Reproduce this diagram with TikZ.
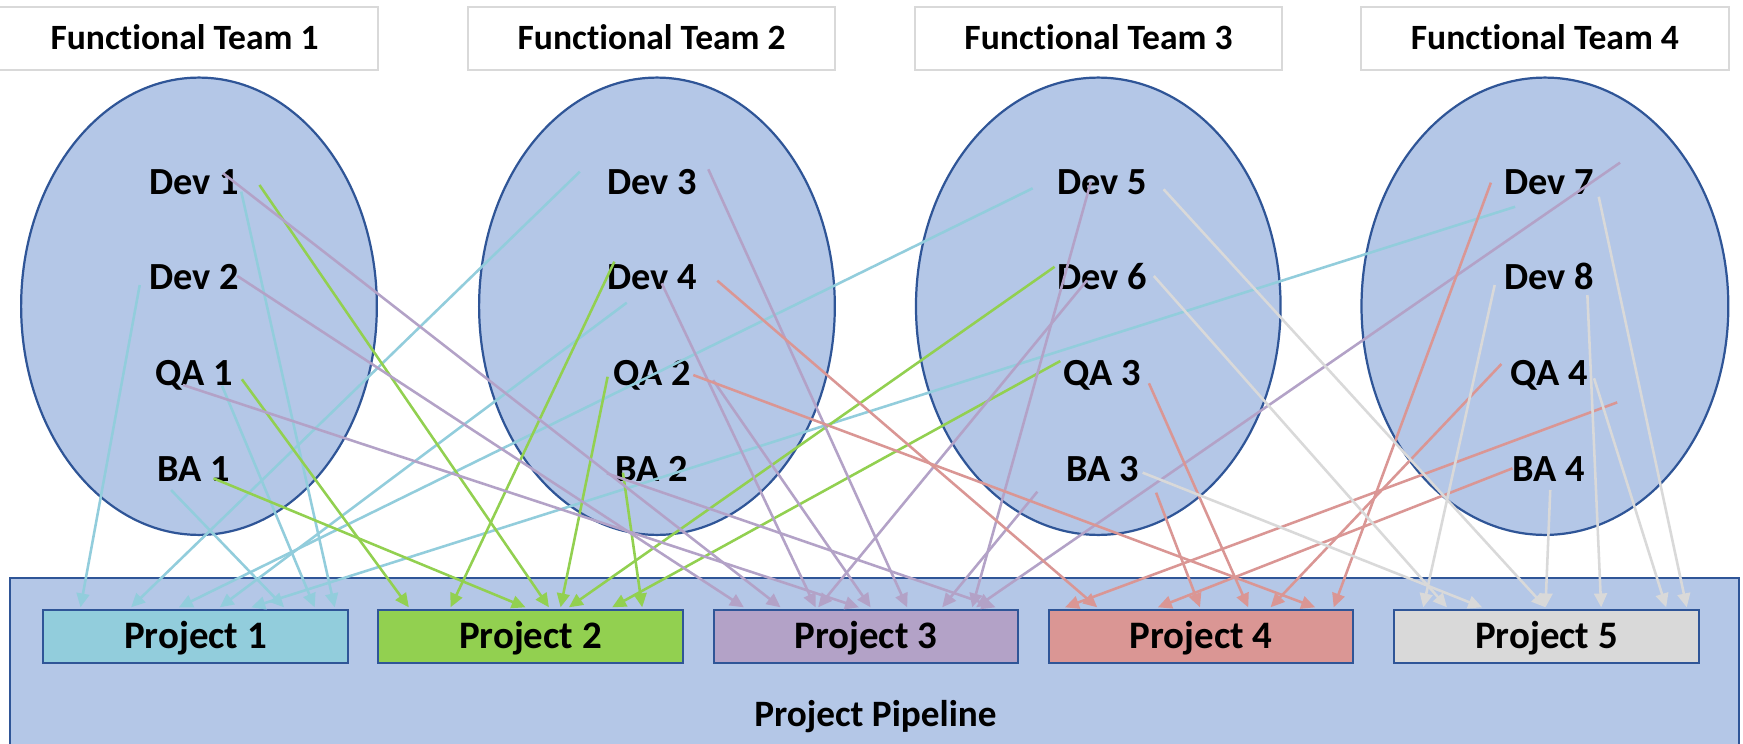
\documentclass[tikz,border=0pt]{standalone}
\usepackage{fontspec}
\setmainfont{Carlito}[Ligatures=NoCommon]
\usetikzlibrary{shapes.geometric,arrows.meta,calc}

\definecolor{pipefill}{RGB}{180,199,231}
\definecolor{navy}{RGB}{47,85,151}
\definecolor{hdrline}{RGB}{217,217,217}
\definecolor{cA}{RGB}{146,205,220}
\definecolor{cB}{RGB}{146,208,80}
\definecolor{cC}{RGB}{179,162,199}
\definecolor{cD}{RGB}{218,150,148}
\definecolor{cE}{RGB}{217,217,217}

\begin{document}
\begin{tikzpicture}[x=1pt,y=-1pt,
  header/.style={draw=hdrline,line width=1.8pt,fill=white,inner sep=0pt,
    minimum height=56.7pt,text height=20.2pt,text depth=0pt,
    font=\fontsize{32}{38}\selectfont\bfseries},
  team/.style={ellipse,draw=navy,line width=2pt,fill=pipefill,inner sep=0pt,
    minimum height=411.4pt},
  pipebox/.style={draw=navy,line width=1.8pt,fill=pipefill,inner sep=0pt},
  projbox/.style={draw=navy,line width=1.8pt,inner sep=0pt,minimum width=274pt,
    minimum height=47.5pt,text height=22.1pt,text depth=0pt,
    font=\fontsize{35}{42}\selectfont\bfseries},
  lbl/.style={inner sep=0pt,text height=21.8pt,text depth=0pt,
    font=\fontsize{34.5}{41}\selectfont\bfseries},
  pipetext/.style={inner sep=0pt,text height=21.2pt,text depth=0pt,
    font=\fontsize{33.5}{40}\selectfont\bfseries},
  arr/.style={line width=2.3pt,-{Triangle[length=12.5pt,width=11.5pt]}}]

\useasboundingbox (0,0) rectangle (1568,669);
\clip (0,0) rectangle (1568,669);
\fill[white] (0,0) rectangle (1568,669);

% pipeline frame
\node[pipebox,minimum width=1554.7pt,minimum height=180pt] (pipe) at (786.6,610.3) {};
\node[pipetext] (pipelabel) at (787.6,643.2) {Project Pipeline};

% team headers
\node[header,minimum width=348pt]   (h1) at (166,34.7)    {Functional Team 1};
\node[header,minimum width=329.6pt] (h2) at (586.2,34.7)  {Functional Team 2};
\node[header,minimum width=329.7pt] (h3) at (988.2,34.7)  {Functional Team 3};
\node[header,minimum width=330.5pt] (h4) at (1389.8,34.7) {Functional Team 4};

% team ellipses
\node[team,minimum width=320pt] (e1) at (179,275.5)   {};
\node[team,minimum width=320pt] (e2) at (591,275.5)   {};
\node[team,minimum width=328pt] (e3) at (988,275.5)   {};
\node[team,minimum width=330pt] (e4) at (1389.8,275.5) {};

% project boxes
\node[projbox,fill=cA] (p1) at (176,572.5)    {Project 1};
\node[projbox,fill=cB] (p2) at (477.2,572.5)  {Project 2};
\node[projbox,fill=cC] (p3) at (778.9,572.5)  {Project 3};
\node[projbox,fill=cD] (p4) at (1080.5,572.5) {Project 4};
\node[projbox,fill=cE] (p5) at (1391.3,572.5) {Project 5};

% team members
\foreach \nm/\x/\y/\txt in {
  dev1/174.4/163.8/Dev 1, dev2/174.4/249.6/Dev 2, qa1/174.4/335.6/QA 1, ba1/174.4/422.5/BA 1,
  dev3/586.5/163.8/Dev 3, dev4/586.5/249.6/Dev 4, qa2/586.5/335.6/QA 2, ba2/586.5/422.5/BA 2,
  dev5/991.7/163.8/Dev 5, dev6/991.7/249.6/Dev 6, qa3/991.7/335.6/QA 3, ba3/991.7/422.5/BA 3,
  dev7/1393.5/163.8/Dev 7, dev8/1393.5/249.6/Dev 8, qa4/1393.5/335.6/QA 4, ba4/1393.5/422.5/BA 4}
  \node[lbl] (\nm) at (\x,\y) {\txt};

% assignments: member -> project
\foreach \src/\ox/\oy/\dst/\dx/\col in {
  dev1/42.6/8.6/p1/263/cA, dev2/-48.7/6.8/p1/34.3/cA, qa1/25.3/11.4/p1/245/cA,
  ba1/-20.5/18.3/p1/217.5/cA, dev3/-64.9/-9.4/p1/79.8/cA, dev4/-22.7/22.7/p1/159.6/cA,
  dev5/-62.7/5.6/p1/122.8/cA, dev7/-30.5/22.2/p1/188/cA,
  qa1/43.2/5.6/p2/28.5/cB, dev4/-33.8/-14.2/p2/66/cB, ba1/17.6/7.8/p2/133.5/cB,
  dev1/59/2.6/p2/154.5/cB, qa2/-39.9/3.3/p2/165/cB, dev6/-43/-9.6/p2/172.5/cB,
  qa3/-37.9/-10.8/p2/211.4/cB, ba2/-26.1/2.7/p2/238.4/cB,
  dev1/26.3/-7.9/p3/61.2/cC, dev2/39.1/-1.3/p3/28.2/cC, qa1/-9.8/10.7/p3/131.7/cC,
  dev3/50.7/-11.5/p3/175.1/cC, dev4/8.8/5.3/p3/92.7/cC, qa2/55/6.4/p3/142.2/cC,
  ba2/-40.6/3.3/p3/254.6/cC, dev5/-10.3/-0.4/p3/233.6/cC, dev6/-13.7/2.4/p3/95/cC,
  ba3/-58.5/19.8/p3/206.6/cC, dev7/63.9/-17.5/p3/237/cC,
  dev4/58.8/2.9/p4/44.5/cD, qa2/37.2/1.8/p4/240.5/cD, qa3/41.9/9.2/p4/180.3/cD,
  ba3/48.3/20.7/p4/136.9/cD, dev7/-52.3/0.5/p4/257.2/cD, qa4/-42.9/-8.1/p4/200.4/cD,
  qa4/61.3/26.4/p4/15.5/cD, ba4/-32.9/-1.2/p4/99/cD,
  dev8/-48.9/6.8/p5/26.9/cE, dev6/46.3/-1.3/p5/48.3/cE, ba3/36.2/2.7/p5/79.9/cE,
  dev5/55.1/6.5/p5/136.9/cE, ba4/1.1/18.3/p5/136.9/cE, dev8/34.5/15.8/p5/187/cE,
  qa4/40.5/4.7/p5/245.5/cE, dev7/44.7/13.2/p5/264/cE}
  \draw[arr,draw=\col] ($(\src)+(\ox,\oy)$) -- ($(\dst.north west)+(\dx,-1.5)$);

\end{tikzpicture}
\end{document}
